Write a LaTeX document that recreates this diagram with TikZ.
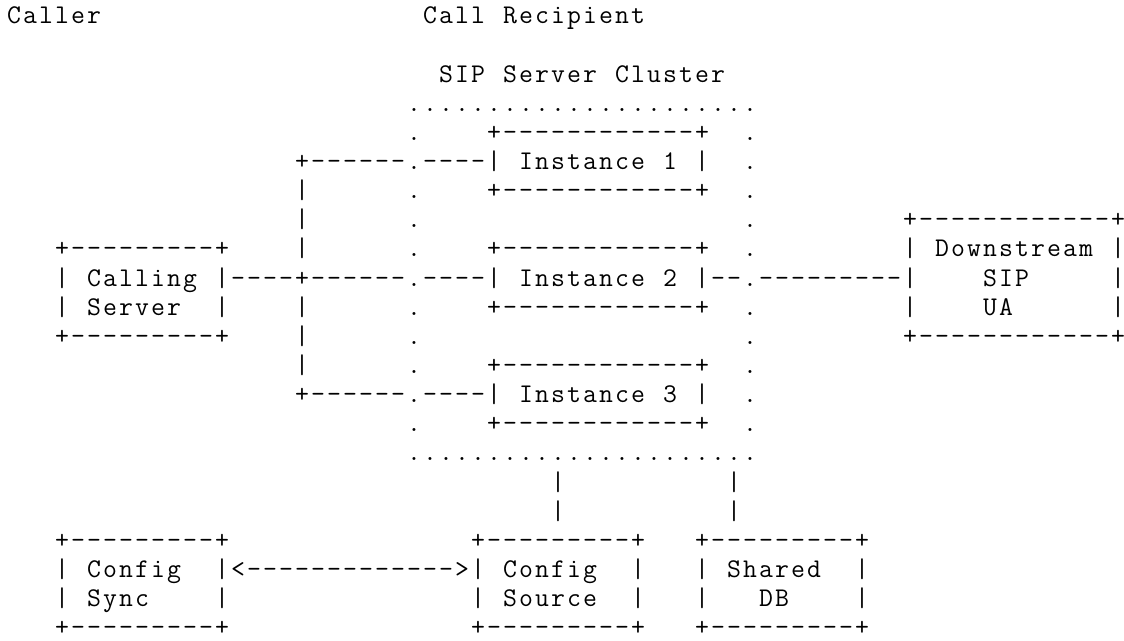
\documentclass[tikz,border=0pt]{standalone}
\newdimen\asccw \asccw=16pt
\def\asctrim{0pt}
\makeatletter
\def\ascline#1{\hbox{\asc@chars#1\relax\kern\asctrim}}
\def\asc@chars#1{\ifx\relax#1\else\ifx~#1\hbox to\asccw{}\else\hbox to\asccw{\hss#1\hss}\fi\expandafter\asc@chars\fi}
\def\ascend{\relax}
\def\asc@rows#1,{\def\asc@tmp{#1}\ifx\asc@tmp\ascend\else\ascline{#1}\expandafter\asc@rows\fi}
\def\ascblock#1{\vtop{\baselineskip=29.14pt\lineskiplimit=-\maxdimen\lineskip=0pt\asc@rows#1,\relax,}}
\makeatother
\tikzset{
  asc/.style={inner sep=0pt, outer sep=0pt, anchor=base west, text=black,
    font=\ttfamily\fontsize{27}{29.14}\selectfont}
}
\begin{document}
\begin{tikzpicture}[x=16pt,y=-29.14pt]
\fill[white] (0pt,0pt) rectangle (1124pt,640pt);
\useasboundingbox (0pt,0pt) rectangle (1124pt,640pt);
\begin{scope}[shift={(6pt,616.2pt)}]
% labels
\node[asc] (caller) at (0,0) {\ascline{Caller}};
\node[asc] (recipient) at (26,0) {\ascline{Call~Recipient}};
\node[asc] (clusterlabel) at (27,2) {\ascline{SIP~Server~Cluster}};
% cluster frame (dotted)
\node[asc] (cluster) at (25,3) {\ascblock{......................,.~~~~~~~~~~~~~~~~~~~~.,.~~~~~~~~~~~~~~~~~~~~.,.~~~~~~~~~~~~~~~~~~~~.,.~~~~~~~~~~~~~~~~~~~~.,.~~~~~~~~~~~~~~~~~~~~.,.~~~~~~~~~~~~~~~~~~~~.,.~~~~~~~~~~~~~~~~~~~~.,.~~~~~~~~~~~~~~~~~~~~.,.~~~~~~~~~~~~~~~~~~~~.,.~~~~~~~~~~~~~~~~~~~~.,.~~~~~~~~~~~~~~~~~~~~.,......................}};
% instances
\node[asc] (inst1) at (30,4) {\ascblock{+------------+,|~Instance~1~|,+------------+}};
\node[asc] (inst2) at (30,8) {\ascblock{+------------+,|~Instance~2~|,+------------+}};
\node[asc] (inst3) at (30,12) {\ascblock{+------------+,|~Instance~3~|,+------------+}};
% calling server
\node[asc] (calling) at (3,8) {\ascblock{+---------+,|~Calling~|,|~Server~~|,+---------+}};
% downstream
\node[asc] (downstream) at (56,7) {\def\asctrim{-7pt}\ascblock{+------------+,|~Downstream~|,|~~~~SIP~~~~~|,|~~~~UA~~~~~~|,+------------+}};
% bottom boxes
\node[asc] (configsync) at (3,18) {\ascblock{+---------+,|~Config~~|,|~Sync~~~~|,+---------+}};
\node[asc] (configsrc) at (29,18) {\ascblock{+---------+,|~Config~~|,|~Source~~|,+---------+}};
\node[asc] (shareddb) at (43,18) {\ascblock{+---------+,|~Shared~~|,|~~~DB~~~~|,+---------+}};
% connectors
\node[asc] (bus) at (18,5) {\ascblock{+,|,|,|,+,|,|,|,+}};
\node[asc] (linkone) at (19,5) {\ascline{------~----}};
\node[asc] (linkcall) at (14,9) {\ascline{----}};
\node[asc] (linktwo) at (19,9) {\ascline{------~----}};
\node[asc] (linkthree) at (19,13) {\ascline{------~----}};
\node[asc] (linkdown) at (44,9) {\ascline{--~---------}};
\node[asc] (linksrc) at (34,16) {\ascblock{|,|}};
\node[asc] (linkdb) at (45,16) {\ascblock{|,|}};
\node[asc] (syncarrow) at (14,19) {\ascline{<------------->}};
\end{scope}
\end{tikzpicture}
\end{document}
